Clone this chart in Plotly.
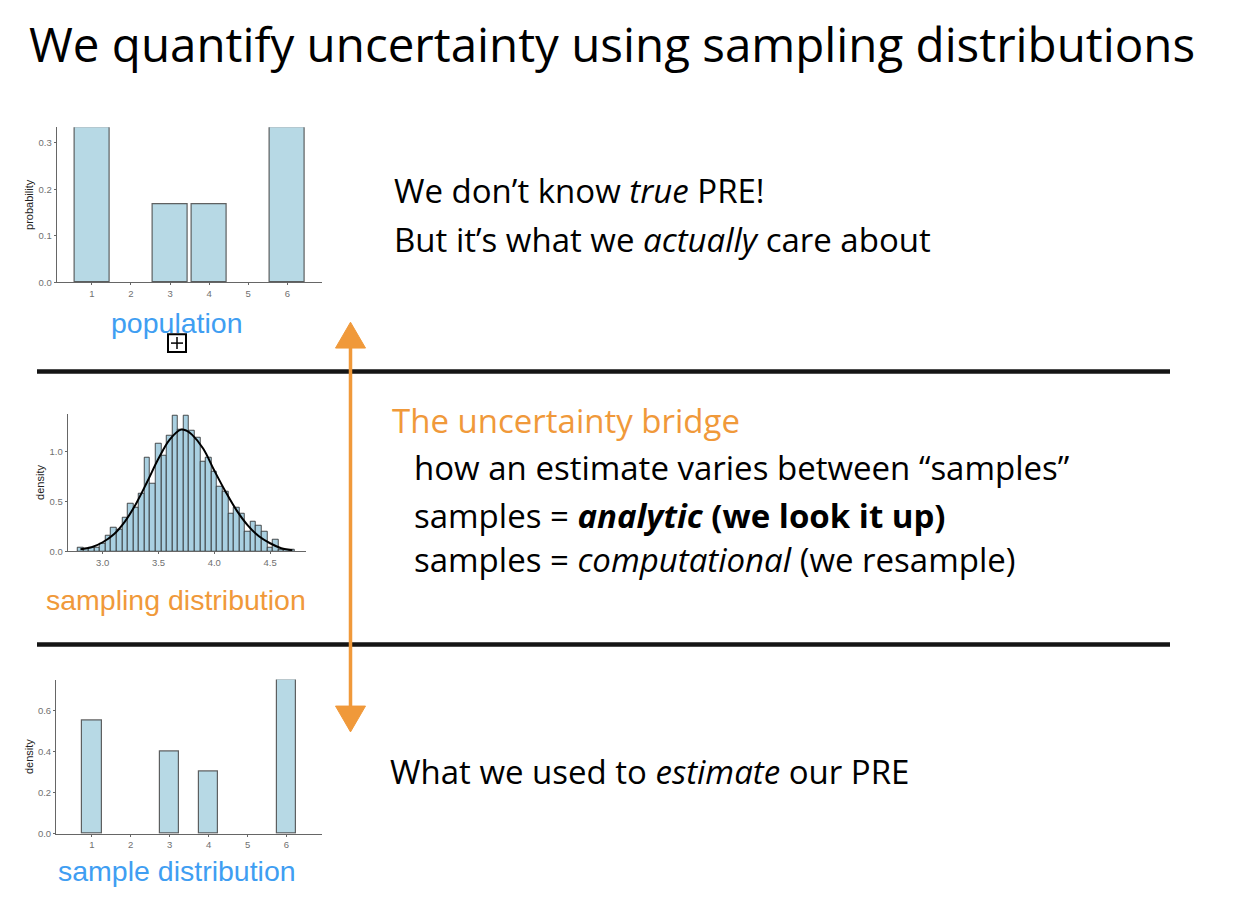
import plotly.graph_objects as go

W, H = 1234, 902

# ---------------- data ----------------
pop_faces = [1, 2, 3, 4, 5, 6]
pop_prob = [0.333, 0, 0.167, 0.167, 0, 0.333]

sample_faces = [1, 2, 3, 4, 5, 6]
sample_density = [0.55, 0, 0.40, 0.30, 0, 0.75]

hist_centers = [2.80, 2.85, 2.90, 2.95, 3.00, 3.05, 3.10, 3.15, 3.20, 3.25,
                3.30, 3.35, 3.40, 3.45, 3.50, 3.55, 3.60, 3.65, 3.70, 3.75,
                3.80, 3.85, 3.90, 3.95, 4.00, 4.05, 4.10, 4.15, 4.20, 4.25,
                4.30, 4.35, 4.40, 4.45, 4.50, 4.55, 4.60, 4.65, 4.70]
hist_density = [0.04, 0.03, 0.04, 0.04, 0.08, 0.16, 0.24, 0.22, 0.34, 0.48,
                0.44, 0.58, 0.94, 0.68, 1.08, 0.96, 1.16, 1.36, 1.22, 1.36,
                1.21, 1.14, 0.90, 0.94, 0.80, 0.65, 0.60, 0.38, 0.44, 0.38,
                0.20, 0.30, 0.26, 0.20, 0.04, 0.12, 0.02, 0.02, 0.02]

curve_x = [2.80, 2.90, 3.00, 3.10, 3.20, 3.30, 3.40, 3.50, 3.60, 3.70, 3.75,
           3.80, 3.90, 4.00, 4.10, 4.20, 4.30, 4.40, 4.50, 4.60, 4.70]
curve_y = [0.02, 0.04, 0.09, 0.17, 0.30, 0.48, 0.70, 0.93, 1.12, 1.22, 1.21,
           1.17, 1.03, 0.81, 0.60, 0.41, 0.26, 0.15, 0.08, 0.03, 0.01]

# ---------------- helpers ----------------
def px(x):
    return x / W

def py(y):
    return 1 - y / H

def nonzero(vals):
    return [v if v > 0 else None for v in vals]

BAR_FILL = "#b7d9e5"
BAR_LINE = "rgba(70,70,70,0.85)"
ORANGE = "#f0993a"
BLUE = "#3f9ef2"
TEXT_FONT = "Open Sans"
LABEL_FONT = "Liberation Sans, Arial, sans-serif"

fig = go.Figure()

fig.add_trace(go.Bar(x=pop_faces, y=nonzero(pop_prob), width=0.9,
                     marker=dict(color=BAR_FILL, line=dict(color=BAR_LINE, width=1.2)),
                     xaxis="x", yaxis="y", showlegend=False))
fig.add_trace(go.Bar(x=hist_centers, y=hist_density, width=0.05,
                     marker=dict(color="#a9d0e1", line=dict(color="rgba(40,40,40,0.9)", width=0.9)),
                     xaxis="x2", yaxis="y2", showlegend=False))
fig.add_trace(go.Scatter(x=curve_x, y=curve_y, mode="lines", line=dict(color="black", width=2, shape="spline"),
                         xaxis="x2", yaxis="y2", showlegend=False))
fig.add_trace(go.Bar(x=sample_faces, y=nonzero(sample_density), width=0.5,
                     marker=dict(color=BAR_FILL, line=dict(color=BAR_LINE, width=1.2)),
                     xaxis="x3", yaxis="y3", showlegend=False))

axis_common = dict(showgrid=False, zeroline=False, showline=True, linecolor="#666", linewidth=1,
                   ticks="outside", ticklen=2, tickcolor="#666",
                   tickfont=dict(family=LABEL_FONT, size=9.5, color="#707070"))
ytitle_font = dict(family=LABEL_FONT, size=11, color="#222")

fig.update_layout(
    width=W, height=H, margin=dict(l=0, r=0, t=0, b=0),
    paper_bgcolor="white", plot_bgcolor="white", bargap=0,
    xaxis=dict(domain=[px(56.7), px(321.7)], range=[0.1, 6.88], tickvals=pop_faces, anchor="y", **axis_common),
    yaxis=dict(domain=[py(284), py(128)], range=[0, 0.333], tickvals=[0, 0.1, 0.2, 0.3], tickformat=".1f", anchor="x",
               title=dict(text="probability", font=ytitle_font, standoff=2), **axis_common),
    xaxis2=dict(domain=[px(67.7), px(306)], range=[2.686, 4.822], tickvals=[3.0, 3.5, 4.0, 4.5], tickformat=".1f",
                anchor="y2", **axis_common),
    yaxis2=dict(domain=[py(554.3), py(416)], range=[0, 1.38], tickvals=[0, 0.5, 1.0], tickformat=".1f", anchor="x2",
                title=dict(text="density", font=ytitle_font, standoff=2), **axis_common),
    xaxis3=dict(domain=[px(56), px(321.7)], range=[0.08, 6.905], tickvals=sample_faces, anchor="y3", **axis_common),
    yaxis3=dict(domain=[py(838.3), py(683.3)], range=[0, 0.75], tickvals=[0, 0.2, 0.4, 0.6], tickformat=".1f",
                anchor="x3", title=dict(text="density", font=ytitle_font, standoff=2), **axis_common),
)

annotations = []

def txt(x, y, text, size, color="black", family=TEXT_FONT, xanchor="left"):
    annotations.append(dict(x=px(x), y=py(y), xref="paper", yref="paper", text=text, showarrow=False,
                            xanchor=xanchor, yanchor="middle", font=dict(family=family, size=size, color=color)))

BODY = 33
txt(27, 44, "We quantify uncertainty using sampling distributions", 47.5)
txt(392, 192, "We don’t know <i>true</i> PRE!", BODY)
txt(392, 241, "But it’s what we <i>actually</i> care about", BODY)
txt(390, 423, "The uncertainty bridge", BODY, color=ORANGE)
txt(412, 470, "how an estimate varies between “samples”", BODY)
txt(412, 518, "samples = <b><i>analytic</i> (we look it up)</b>", BODY)
txt(412, 563, "samples = <i>computational</i> (we resample)", BODY)
txt(388, 776, "What we used to <i>estimate</i> our PRE", BODY)

txt(176.5, 325, "population", 28.5, color=BLUE, family=LABEL_FONT, xanchor="center")
txt(176, 603, "sampling distribution", 28.5, color=ORANGE, family=LABEL_FONT, xanchor="center")
txt(177, 876, "sample distribution", 28.5, color=BLUE, family=LABEL_FONT, xanchor="center")

fig.update_layout(annotations=annotations)

shapes = []
# separator lines
for yy in (373.5, 648):
    shapes.append(dict(type="line", xref="paper", yref="paper", x0=px(37), x1=px(1170), y0=py(yy), y1=py(yy),
                       line=dict(color="#151515", width=4.5)))

# orange double-headed arrow
ax = 350.5
shapes.append(dict(type="line", xref="paper", yref="paper", x0=px(ax), x1=px(ax), y0=py(345), y1=py(713),
                   line=dict(color=ORANGE, width=3.5)))

def tri(x_c, y_tip, y_base, half):
    return (f"M {px(x_c)} {py(y_tip)} L {px(x_c - half)} {py(y_base)} L {px(x_c + half)} {py(y_base)} Z")

shapes.append(dict(type="path", xref="paper", yref="paper", path=tri(ax, 324, 350, 15),
                   fillcolor=ORANGE, line=dict(color=ORANGE, width=1)))
shapes.append(dict(type="path", xref="paper", yref="paper", path=tri(ax, 736, 710, 15),
                   fillcolor=ORANGE, line=dict(color=ORANGE, width=1)))

# small box-with-plus icon under "population"
cx, cy, hs = 177, 345, 9
shapes.append(dict(type="rect", xref="paper", yref="paper", x0=px(cx - hs), x1=px(cx + hs), y0=py(cy + hs),
                   y1=py(cy - hs), line=dict(color="black", width=2), fillcolor="white"))
shapes.append(dict(type="line", xref="paper", yref="paper", x0=px(cx - 6), x1=px(cx + 6), y0=py(cy), y1=py(cy),
                   line=dict(color="black", width=1.5)))
shapes.append(dict(type="line", xref="paper", yref="paper", x0=px(cx), x1=px(cx), y0=py(cy - 6), y1=py(cy + 6),
                   line=dict(color="black", width=1.5)))

fig.update_layout(shapes=shapes)

fig.write_html("out.html")
